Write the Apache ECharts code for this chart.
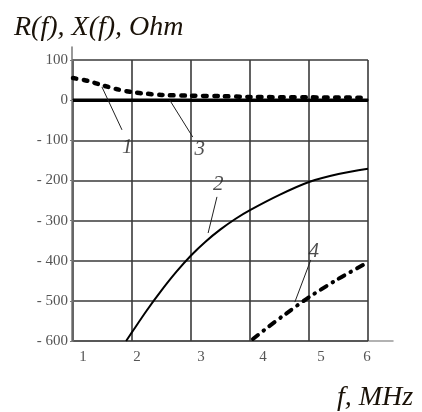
<!DOCTYPE html>
<html>
<head>
<meta charset="utf-8">
<script src="https://cdn.jsdelivr.net/npm/echarts@6/dist/echarts.min.js"></script>
<style>
html,body{margin:0;padding:0;background:#fff;}
#c{width:422px;height:412px;}
</style>
</head>
<body>
<div id="c"></div>
<script>
// ---- data ----
const freqTicks = [1, 2, 3, 4, 5, 6];            // f, MHz
const valueTicks = [100, 0, -100, -200, -300, -400, -500, -600]; // Ohm
const curve1 = [[1, 0], [6, 0]];
const curve2 = [[1.9, -600], [2.0, -578], [2.25, -524], [2.5, -474], [2.75, -428], [3.0, -387], [3.25, -352], [3.5, -322], [3.75, -296], [4.0, -274], [4.5, -236], [5.0, -204], [5.5, -184], [6.0, -171]];
const curve3 = [[1, 55], [1.25, 48], [1.5, 37], [1.75, 27], [2, 20], [2.25, 16], [2.5, 13], [3, 11], [3.5, 10], [4, 8], [5, 7], [6, 6]];
const curve4 = [[4.05, -595], [4.3, -566], [4.6, -533], [5.0, -491], [5.5, -445], [5.95, -408]];
const calloutNames = ['1', '3', '2', '4'];
const calloutFrom = [[1.49, 33], [2.64, 0], [3.44, -241], [4.76, -503]];
const calloutTo = [[1.83, -74], [3.03, -92], [3.29, -331], [5.03, -398]];
const calloutText = [[1.92, -117], [3.15, -124], [3.46, -211], [5.08, -378]];

// ---- chart ----
const chart = echarts.init(document.getElementById('c'), null, {renderer: 'canvas'});
const serif = 'Liberation Serif';
const xShift = {1: 10, 2: 5, 3: 10, 4: 13, 5: 12, 6: -1};
const rich = {};
freqTicks.forEach(v => {
  const s = xShift[v] || 0;
  rich['p' + v] = {
    fontFamily: serif, fontSize: 15, color: '#555',
    padding: s >= 0 ? [0, 0, 0, 2 * s] : [0, -2 * s, 0, 0]
  };
});

const series = [
  {type: 'line', name: '1', data: curve1, showSymbol: false, xAxisIndex: 0, yAxisIndex: 0,
   lineStyle: {color: '#000', width: 3.5}, z: 4},
  {type: 'line', name: '3', data: curve3, showSymbol: false, smooth: 0.3,
   lineStyle: {color: '#000', width: 4.5, type: [3.5, 7.5], cap: 'round'}, z: 5},
  {type: 'line', name: '2', data: curve2, showSymbol: false, smooth: 0.3,
   lineStyle: {color: '#000', width: 2}, z: 4},
  {type: 'line', name: '4', data: curve4, showSymbol: false, smooth: 0.3,
   lineStyle: {color: '#000', width: 4, type: [6.5, 7, 0.5, 7], cap: 'round'}, z: 4}
];
calloutNames.forEach((n, i) => {
  series.push({type: 'line', data: [calloutFrom[i], calloutTo[i]], showSymbol: false, silent: true,
    lineStyle: {color: '#222', width: 1}, z: 6});
});
series.push({type: 'scatter', symbolSize: 0, silent: true, z: 7,
  data: calloutText.map((p, i) => ({value: p, name: calloutNames[i]})),
  label: {show: true, position: 'inside', formatter: p => p.name,
    fontFamily: serif, fontStyle: 'italic', fontSize: 21, color: '#222'}});

chart.setOption({
  animation: false,
  backgroundColor: '#fff',
  title: [
    {text: 'R(f), X(f), Ohm', left: 9, top: 9,
     textStyle: {fontFamily: serif, fontStyle: 'italic', fontWeight: 'normal', fontSize: 28, color: '#1a1208'}},
    {text: 'f, MHz', left: 332, top: 379,
     textStyle: {fontFamily: serif, fontStyle: 'italic', fontWeight: 'normal', fontSize: 28, color: '#1a1208'}}
  ],
  grid: [
    {left: 73, top: 60, width: 295, height: 281},
    {left: 72, top: 47, width: 321, height: 294}
  ],
  xAxis: [
    {type: 'value', gridIndex: 0, min: 1, max: 6, interval: 1, z: 3,
     axisLine: {show: true, lineStyle: {color: '#333', width: 2}},
     axisTick: {show: false},
     axisLabel: {margin: 9, formatter: v => '{p' + v + '|' + v + '}', rich: rich},
     splitLine: {show: true, lineStyle: {color: '#3a3a3a', width: 1.6}}},
    {type: 'value', gridIndex: 1, min: 0, max: 1, z: 1,
     axisLine: {show: true, lineStyle: {color: '#999', width: 1.5}},
     axisTick: {show: false}, axisLabel: {show: false}, splitLine: {show: false}}
  ],
  yAxis: [
    {type: 'value', gridIndex: 0, min: -600, max: 100, interval: 100, z: 3,
     axisLine: {show: true, lineStyle: {color: '#666', width: 2}},
     axisTick: {show: true, length: 3, lineStyle: {color: '#777', width: 1}},
     axisLabel: {margin: 5, fontFamily: serif, fontSize: 15, color: '#555',
       formatter: v => v < 0 ? '- ' + (-v) : String(v)},
     splitLine: {show: true, lineStyle: {color: '#3a3a3a', width: 1.6}}},
    {type: 'value', gridIndex: 1, min: 0, max: 1, z: 1,
     axisLine: {show: true, lineStyle: {color: '#777', width: 1.5}},
     axisTick: {show: false}, axisLabel: {show: false}, splitLine: {show: false}}
  ],
  series: series
});
</script>
</body>
</html>
